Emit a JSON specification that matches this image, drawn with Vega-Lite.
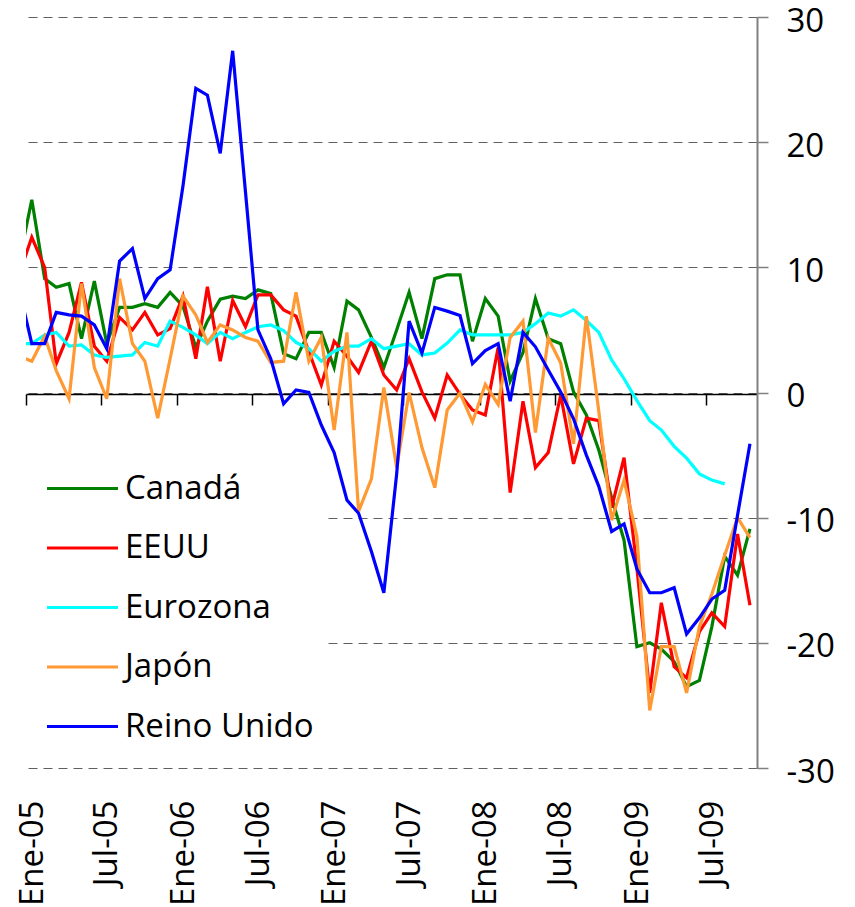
{
  "$schema": "https://vega.github.io/schema/vega-lite/v6.json",
  "width": 731,
  "height": 751,
  "autosize": "none",
  "padding": {"left": 26, "top": 17, "right": 98, "bottom": 139},
  "background": "white",
  "config": {"view": {"stroke": null}, "font": "Open Sans"},
  "data": {"values": [
    {"mes":"2004-12-15","Canadá":10.4,"EEUU":9.4,"Eurozona":3.9,"Japón":2.9,"Reino Unido":8.3},
    {"mes":"2005-01-15","Canadá":15.4,"EEUU":12.4,"Eurozona":3.9,"Japón":2.5,"Reino Unido":3.9},
    {"mes":"2005-02-15","Canadá":9.1,"EEUU":10.0,"Eurozona":4.6,"Japón":4.5,"Reino Unido":3.9},
    {"mes":"2005-03-15","Canadá":8.4,"EEUU":2.3,"Eurozona":4.8,"Japón":1.75,"Reino Unido":6.4},
    {"mes":"2005-04-15","Canadá":8.7,"EEUU":4.8,"Eurozona":3.7,"Japón":-0.5,"Reino Unido":6.2},
    {"mes":"2005-05-15","Canadá":4.3,"EEUU":8.8,"Eurozona":3.8,"Japón":8.7,"Reino Unido":6.1},
    {"mes":"2005-06-15","Canadá":8.9,"EEUU":3.7,"Eurozona":3.0,"Japón":2.0,"Reino Unido":5.4},
    {"mes":"2005-07-15","Canadá":3.9,"EEUU":2.5,"Eurozona":2.8,"Japón":-0.5,"Reino Unido":3.5},
    {"mes":"2005-08-15","Canadá":6.8,"EEUU":6.0,"Eurozona":2.9,"Japón":9.1,"Reino Unido":10.5},
    {"mes":"2005-09-15","Canadá":6.8,"EEUU":5.0,"Eurozona":3.0,"Japón":3.9,"Reino Unido":11.5},
    {"mes":"2005-10-15","Canadá":7.1,"EEUU":6.4,"Eurozona":4.0,"Japón":2.5,"Reino Unido":7.5},
    {"mes":"2005-11-15","Canadá":6.8,"EEUU":4.6,"Eurozona":3.7,"Japón":-2.05,"Reino Unido":9.1},
    {"mes":"2005-12-15","Canadá":8.0,"EEUU":5.1,"Eurozona":5.7,"Japón":2.7,"Reino Unido":9.8},
    {"mes":"2006-01-15","Canadá":6.9,"EEUU":7.7,"Eurozona":5.2,"Japón":7.7,"Reino Unido":16.5},
    {"mes":"2006-02-15","Canadá":3.6,"EEUU":2.7,"Eurozona":4.6,"Japón":6.2,"Reino Unido":24.3},
    {"mes":"2006-03-15","Canadá":5.7,"EEUU":8.45,"Eurozona":3.9,"Japón":4.0,"Reino Unido":23.75},
    {"mes":"2006-04-15","Canadá":7.45,"EEUU":2.5,"Eurozona":4.8,"Japón":5.4,"Reino Unido":19.1},
    {"mes":"2006-05-15","Canadá":7.7,"EEUU":7.35,"Eurozona":4.3,"Japón":5.0,"Reino Unido":27.3},
    {"mes":"2006-06-15","Canadá":7.5,"EEUU":5.25,"Eurozona":4.8,"Japón":4.4,"Reino Unido":16.0},
    {"mes":"2006-07-15","Canadá":8.2,"EEUU":7.8,"Eurozona":5.25,"Japón":4.1,"Reino Unido":5.0},
    {"mes":"2006-08-15","Canadá":7.9,"EEUU":7.8,"Eurozona":5.4,"Japón":2.4,"Reino Unido":2.7},
    {"mes":"2006-09-15","Canadá":3.1,"EEUU":6.6,"Eurozona":4.95,"Japón":2.5,"Reino Unido":-0.9},
    {"mes":"2006-10-15","Canadá":2.7,"EEUU":6.1,"Eurozona":4.0,"Japón":8.0,"Reino Unido":0.2},
    {"mes":"2006-11-15","Canadá":4.8,"EEUU":3.25,"Eurozona":3.5,"Japón":2.5,"Reino Unido":0.0},
    {"mes":"2006-12-15","Canadá":4.8,"EEUU":0.6,"Eurozona":2.5,"Japón":4.4,"Reino Unido":-2.6},
    {"mes":"2007-01-15","Canadá":2.0,"EEUU":4.1,"Eurozona":3.3,"Japón":-3.0,"Reino Unido":-4.8},
    {"mes":"2007-02-15","Canadá":7.3,"EEUU":2.9,"Eurozona":3.7,"Japón":4.8,"Reino Unido":-8.6},
    {"mes":"2007-03-15","Canadá":6.6,"EEUU":1.6,"Eurozona":3.7,"Japón":-9.5,"Reino Unido":-9.65},
    {"mes":"2007-04-15","Canadá":4.4,"EEUU":4.1,"Eurozona":4.3,"Japón":-6.9,"Reino Unido":-12.7},
    {"mes":"2007-05-15","Canadá":2.0,"EEUU":1.4,"Eurozona":3.5,"Japón":0.4,"Reino Unido":-16.0},
    {"mes":"2007-06-15","Canadá":5.0,"EEUU":0.2,"Eurozona":3.7,"Japón":-6.0,"Reino Unido":-6.5},
    {"mes":"2007-07-15","Canadá":8.0,"EEUU":2.7,"Eurozona":3.9,"Japón":0.0,"Reino Unido":5.7},
    {"mes":"2007-08-15","Canadá":4.3,"EEUU":0.05,"Eurozona":3.0,"Japón":-4.4,"Reino Unido":3.15},
    {"mes":"2007-09-15","Canadá":9.1,"EEUU":-2.05,"Eurozona":3.15,"Japón":-7.6,"Reino Unido":6.8},
    {"mes":"2007-10-15","Canadá":9.4,"EEUU":1.4,"Eurozona":3.95,"Japón":-1.4,"Reino Unido":6.5},
    {"mes":"2007-11-15","Canadá":9.4,"EEUU":-0.15,"Eurozona":5.0,"Japón":-0.05,"Reino Unido":6.15},
    {"mes":"2007-12-15","Canadá":4.1,"EEUU":-1.4,"Eurozona":4.6,"Japón":-2.35,"Reino Unido":2.3},
    {"mes":"2008-01-15","Canadá":7.5,"EEUU":-1.8,"Eurozona":4.6,"Japón":0.65,"Reino Unido":3.35},
    {"mes":"2008-02-15","Canadá":6.1,"EEUU":3.6,"Eurozona":4.6,"Japón":-0.95,"Reino Unido":3.9},
    {"mes":"2008-03-15","Canadá":0.9,"EEUU":-8.0,"Eurozona":4.6,"Japón":4.4,"Reino Unido":-0.7},
    {"mes":"2008-04-15","Canadá":3.2,"EEUU":-0.7,"Eurozona":4.8,"Japón":5.7,"Reino Unido":4.8},
    {"mes":"2008-05-15","Canadá":7.5,"EEUU":-6.0,"Eurozona":5.5,"Japón":-3.2,"Reino Unido":3.65},
    {"mes":"2008-06-15","Canadá":4.3,"EEUU":-4.8,"Eurozona":6.35,"Japón":4.35,"Reino Unido":1.8},
    {"mes":"2008-07-15","Canadá":3.9,"EEUU":-0.2,"Eurozona":6.1,"Japón":2.35,"Reino Unido":0.05},
    {"mes":"2008-08-15","Canadá":0.05,"EEUU":-5.7,"Eurozona":6.6,"Japón":-4.1,"Reino Unido":-2.1},
    {"mes":"2008-09-15","Canadá":-1.8,"EEUU":-2.05,"Eurozona":5.75,"Japón":6.1,"Reino Unido":-5.0},
    {"mes":"2008-10-15","Canadá":-4.6,"EEUU":-2.25,"Eurozona":4.8,"Japón":-1.5,"Reino Unido":-7.5},
    {"mes":"2008-11-15","Canadá":-8.4,"EEUU":-9.2,"Eurozona":2.6,"Japón":-10.2,"Reino Unido":-11.1},
    {"mes":"2008-12-15","Canadá":-11.8,"EEUU":-5.2,"Eurozona":1.1,"Japón":-7.0,"Reino Unido":-10.5},
    {"mes":"2009-01-15","Canadá":-20.3,"EEUU":-14.0,"Eurozona":-0.65,"Japón":-11.5,"Reino Unido":-14.1},
    {"mes":"2009-02-15","Canadá":-20.0,"EEUU":-24.0,"Eurozona":-2.25,"Japón":-25.4,"Reino Unido":-16.0},
    {"mes":"2009-03-15","Canadá":-20.5,"EEUU":-16.8,"Eurozona":-3.0,"Japón":-20.3,"Reino Unido":-16.0},
    {"mes":"2009-04-15","Canadá":-21.5,"EEUU":-21.9,"Eurozona":-4.3,"Japón":-20.3,"Reino Unido":-15.6},
    {"mes":"2009-05-15","Canadá":-23.5,"EEUU":-22.8,"Eurozona":-5.25,"Japón":-24.0,"Reino Unido":-19.3},
    {"mes":"2009-06-15","Canadá":-23.0,"EEUU":-19.1,"Eurozona":-6.5,"Japón":-18.7,"Reino Unido":-18.0},
    {"mes":"2009-07-15","Canadá":-18.7,"EEUU":-17.6,"Eurozona":-7.0,"Japón":-16.1,"Reino Unido":-16.5},
    {"mes":"2009-08-15","Canadá":-13.1,"EEUU":-18.7,"Eurozona":-7.3,"Japón":-13.0,"Reino Unido":-15.8},
    {"mes":"2009-09-15","Canadá":-14.6,"EEUU":-11.3,"Eurozona":null,"Japón":-10.0,"Reino Unido":-9.8},
    {"mes":"2009-10-15","Canadá":-10.9,"EEUU":-17.0,"Eurozona":null,"Japón":-11.6,"Reino Unido":-4.1}
  ]},
  "transform": [
    {"fold": ["Canadá", "EEUU", "Eurozona", "Japón", "Reino Unido"], "as": ["serie", "valor"]},
    {"filter": "datum.valor != null"}
  ],
  "resolve": {"axis": {"x": "independent", "y": "independent"}},
  "layer": [
    {
      "mark": {"type": "line", "strokeWidth": 3.2, "clip": true},
      "encoding": {
        "x": {
          "field": "mes", "type": "temporal",
          "scale": {"type": "utc", "domain": [{"year": 2005, "month": 1, "date": 1, "utc": true}, {"year": 2009, "month": 11, "date": 1, "utc": true}]},
          "axis": {
            "orient": "bottom",
            "title": null, "labels": false, "grid": false, "offset": -374,
            "values": [
              {"year": 2005, "month": 1, "date": 1, "utc": true}, {"year": 2005, "month": 7, "date": 1, "utc": true},
              {"year": 2006, "month": 1, "date": 1, "utc": true}, {"year": 2006, "month": 7, "date": 1, "utc": true},
              {"year": 2007, "month": 1, "date": 1, "utc": true}, {"year": 2007, "month": 7, "date": 1, "utc": true},
              {"year": 2008, "month": 1, "date": 1, "utc": true}, {"year": 2008, "month": 7, "date": 1, "utc": true},
              {"year": 2009, "month": 1, "date": 1, "utc": true}, {"year": 2009, "month": 7, "date": 1, "utc": true}
            ],
            "domainColor": "#000000", "domainWidth": 1.5,
            "tickColor": "#000000", "tickWidth": 1.5, "tickSize": 11,
            "zindex": 0
          }
        },
        "y": {
          "field": "valor", "type": "quantitative",
          "scale": {"domain": [-30, 30], "nice": false, "zero": false},
          "axis": {
            "title": null, "orient": "right",
            "values": [-30, -20, -10, 0, 10, 20, 30],
            "labelExpr": "'' + datum.value",
            "grid": true, "gridDash": [9, 6], "gridColor": "#606060", "gridWidth": 1.2,
            "domainColor": "#808080", "domainWidth": 2,
            "tickColor": "#808080", "tickWidth": 1.5, "tickSize": 11,
            "labelFontSize": 33, "labelColor": "#000000", "labelPadding": 18, "labelOffset": 4,
            "labelFont": "Open Sans", "labelFlush": false, "zindex": 0
          }
        },
        "color": {
          "field": "serie", "type": "nominal",
          "scale": {
            "domain": ["Canadá", "EEUU", "Eurozona", "Japón", "Reino Unido"],
            "range": ["#008000", "#ff0000", "#00ffff", "#ff9933", "#0000ff"]
          },
          "legend": {
            "title": null, "orient": "none", "legendX": 0, "legendY": 442,
            "symbolType": "M-2,0H2", "symbolSize": 1260, "symbolStrokeWidth": 3,
            "symbolOffset": 27,
            "labelFontSize": 33, "labelFont": "Open Sans", "labelColor": "#000000",
            "labelOffset": 23, "rowPadding": 22.5, "fillColor": "white", "padding": 10,
            "labelLimit": 400, "zindex": 1
          }
        }
      }
    },
    {
      "mark": {"type": "line", "opacity": 0, "clip": true},
      "encoding": {
        "x": {
          "field": "mes", "type": "temporal",
          "axis": {
            "orient": "bottom",
            "title": null, "domain": false, "ticks": false, "grid": false,
            "values": [
              {"year": 2005, "month": 1, "date": 1, "utc": true}, {"year": 2005, "month": 7, "date": 1, "utc": true},
              {"year": 2006, "month": 1, "date": 1, "utc": true}, {"year": 2006, "month": 7, "date": 1, "utc": true},
              {"year": 2007, "month": 1, "date": 1, "utc": true}, {"year": 2007, "month": 7, "date": 1, "utc": true},
              {"year": 2008, "month": 1, "date": 1, "utc": true}, {"year": 2008, "month": 7, "date": 1, "utc": true},
              {"year": 2009, "month": 1, "date": 1, "utc": true}, {"year": 2009, "month": 7, "date": 1, "utc": true}
            ],
            "labelExpr": "(utcmonth(datum.value) == 0 ? 'Ene' : 'Jul') + '-' + utcFormat(datum.value, '%y')",
            "labelAngle": 270, "labelAlign": "right", "labelBaseline": "middle",
            "labelFontSize": 33, "labelFont": "Open Sans", "labelColor": "#000000",
            "labelPadding": 32, "labelOffset": 6, "labelFlush": false, "labelOverlap": false
          }
        },
        "y": {"field": "valor", "type": "quantitative", "axis": null},
        "detail": {"field": "serie", "type": "nominal"}
      }
    }
  ]
}
